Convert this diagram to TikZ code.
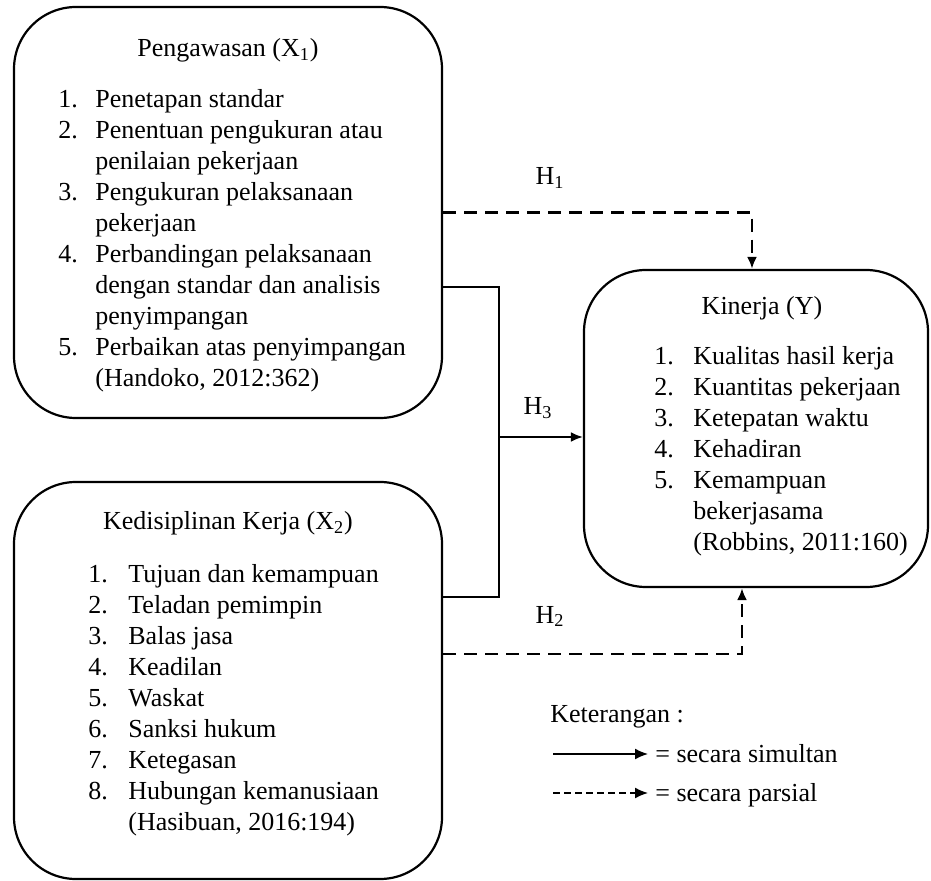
\documentclass[tikz,border=0pt]{standalone}
\usepackage{fontspec}
\setmainfont{Liberation Serif}
\usepackage{tikz}
\usetikzlibrary{positioning,arrows.meta}

\begin{document}
\begin{tikzpicture}[x=0.5pt,y=-0.5pt,
  box/.style = {draw, line width=1.1pt, rounded corners=31pt, inner sep=0pt},
  txt/.style = {inner sep=0pt, font=\fontsize{13}{15.5}\selectfont},
  hyp/.style = {line width=1.3pt, dash pattern=on 6.5pt off 4pt, -{Latex[length=6pt,width=5pt]}},
  sim/.style = {line width=1.1pt, -{Latex[length=6pt,width=5pt]}}]
\useasboundingbox (0,0) rectangle (931,881);

% boxes
\node[box, minimum width=214pt, minimum height=205.5pt] (x1) at (228,212.5) {};
\node[box, minimum width=214pt, minimum height=198.5pt] (x2) at (228,680.5) {};
\node[box, minimum width=172pt, minimum height=158.5pt] (kin) at (756,428.5) {};

% X1
\node[txt, anchor=base] (t1) at (228,57) {Pengawasan (X\textsubscript{1})};
\node[txt, anchor=base west] (l1) at (58,108) {\begin{tabular}[t]{@{}p{18.5pt}@{}l@{}}
1. & Penetapan standar\\
2. & Penentuan pengukuran atau\\
   & penilaian pekerjaan\\
3. & Pengukuran pelaksanaan\\
   & pekerjaan\\
4. & Perbandingan pelaksanaan\\
   & dengan standar dan analisis\\
   & penyimpangan\\
5. & Perbaikan atas penyimpangan\\
   & (Handoko, 2012:362)
\end{tabular}};

% X2
\node[txt, anchor=base] (t2) at (228,530) {Kedisiplinan Kerja (X\textsubscript{2})};
\node[txt, anchor=base west] (l2) at (88,582) {\begin{tabular}[t]{@{}p{20pt}@{}l@{}}
1. & Tujuan dan kemampuan\\
2. & Teladan pemimpin\\
3. & Balas jasa\\
4. & Keadilan\\
5. & Waskat\\
6. & Sanksi hukum\\
7. & Ketegasan\\
8. & Hubungan kemanusiaan\\
   & (Hasibuan, 2016:194)
\end{tabular}};

% Y
\node[txt, anchor=base] (t3) at (762,315) {Kinerja (Y)};
\node[txt, anchor=base west] (l3) at (654,365) {\begin{tabular}[t]{@{}p{19.5pt}@{}l@{}}
1. & Kualitas hasil kerja\\
2. & Kuantitas pekerjaan\\
3. & Ketepatan waktu\\
4. & Kehadiran\\
5. & Kemampuan\\
   & bekerjasama\\
   & (Robbins, 2011:160)
\end{tabular}};

% hipotesis
\coordinate (b1) at (499,287);
\coordinate (b2) at (499,597);
\coordinate (j) at (499,437);
\coordinate (h2) at (742,654);

\draw[line width=1.1pt] (x1.east |- b1) -- (b1) -- (b2) -- (x2.east |- b2);
\draw[sim] (j) -- (kin.west |- j);
\draw[hyp] (x1.east) -| ([xshift=-2pt]kin.north);
\draw[hyp] (x2.east |- h2) -- (h2) -- (h2 |- kin.south);

\node[txt, anchor=base] (h1l) at (550,185) {H\textsubscript{1}};
\node[txt, anchor=base] (h3l) at (538,415) {H\textsubscript{3}};
\node[txt, anchor=base] (h2l) at (550,623) {H\textsubscript{2}};

% keterangan
\node[txt, anchor=base west] (ket) at (550,722) {Keterangan :};
\coordinate (s1) at (553,754);
\coordinate (s2) at (553,793);
\node[txt, anchor=base west, inner xsep=3.5pt] (lsim) at (648,762) {= secara simultan};
\node[txt, anchor=base west, inner xsep=3.5pt] (lpar) at (648,801) {= secara parsial};
\draw[line width=0.8pt, -{Latex[length=6.5pt,width=5.5pt]}] (s1) -- (s1 -| lsim.west);
\draw[line width=0.8pt, dash pattern=on 3.5pt off 2pt, -{Latex[length=6.5pt,width=5.5pt]}] (s2) -- (s2 -| lpar.west);
\end{tikzpicture}
\end{document}
